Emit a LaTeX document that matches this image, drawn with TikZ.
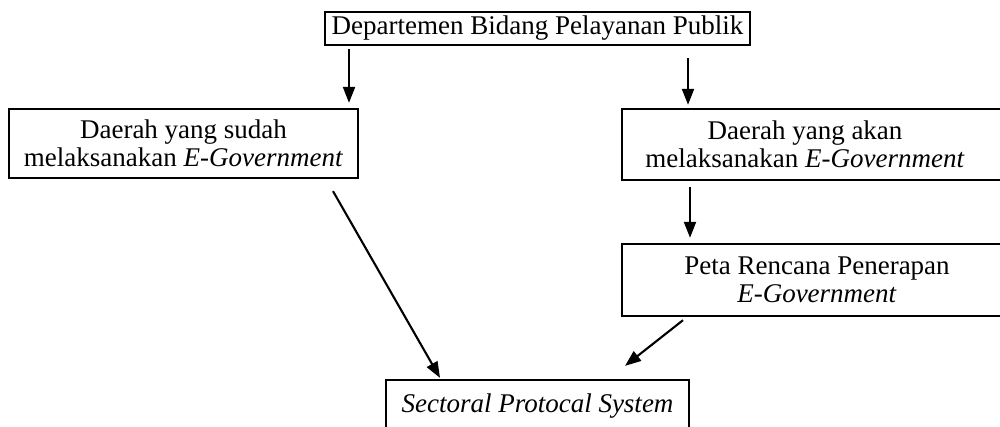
\documentclass[tikz,border=0pt]{standalone}
\usepackage{fontspec}
\setmainfont{Liberation Serif}
\usetikzlibrary{arrows.meta,calc}
\begin{document}
\begin{tikzpicture}[x=1pt,y=-1pt,
  txt/.style={align=center, inner sep=0pt, font=\fontsize{27}{28.5}\selectfont},
  box/.style={txt, draw, line width=2.3pt},
  frame/.style={line width=2.3pt},
  arr/.style={line width=2.1pt, -{Triangle[length=16pt,width=12pt]}}]
\useasboundingbox (0,0) rectangle (1000,426);
\node[box, minimum width=425, minimum height=33] (top) at (537.5,28.5) {Departemen Bidang Pelayanan Publik};
\node[box, minimum width=349, minimum height=69] (l) at (183.5,143.5) {Daerah yang sudah\\melaksanakan \textit{E-Government}};
\node[txt, minimum width=366, minimum height=71] (r) at (805,144.5) {Daerah yang akan\\melaksanakan \textit{E-Government}};
\draw[frame] (r.north west) rectangle ([xshift=40pt]r.south east);
\node[txt, minimum width=390, minimum height=72] (p) at (817,280) {Peta Rencana Penerapan\\\textit{E-Government}};
\draw[frame] (p.north west) rectangle ([xshift=20pt]p.south east);
\node[box, minimum width=303, minimum height=52] (s) at (537.5,406) {\textit{Sectoral Protocal System}};
\draw[arr] ($(top.south)+(-188.5,3)$) -- ($(l.north)+(165.5,-5)$);
\draw[arr] ($(top.south)+(150.5,12)$) -- ($(r.north)+(-117,-4)$);
\draw[arr] ($(r.south)+(-115,7)$) -- ($(p.north)+(-127,-6)$);
\draw[arr] ($(l.south)+(149.5,12)$) -- ($(s.north)+(-97.5,-1)$);
\draw[arr] ($(p.south)+(-134,4)$) -- ($(s.north)+(87.5,-13)$);
\end{tikzpicture}
\end{document}
